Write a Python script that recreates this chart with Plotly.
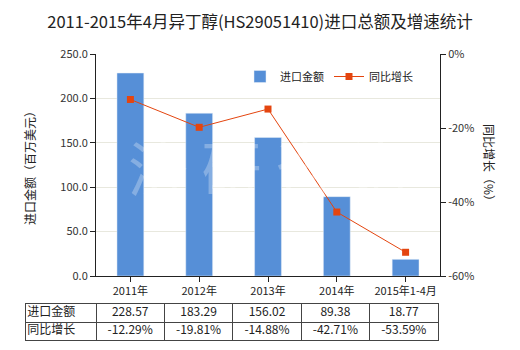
import plotly.graph_objects as go

categories = ["2011年", "2012年", "2013年", "2014年", "2015年1-4月"]
import_values = [228.57, 183.29, 156.02, 89.38, 18.77]
growth_values = [-12.29, -19.81, -14.88, -42.71, -53.59]
import_labels = ["228.57", "183.29", "156.02", "89.38", "18.77"]
growth_labels = ["-12.29%", "-19.81%", "-14.88%", "-42.71%", "-53.59%"]
row_names = ["进口金额", "同比增长"]
left_ticks = [0, 50, 100, 150, 200, 250]
right_ticks = [-60, -40, -20, 0]

FONT = "Noto Sans CJK SC"
BAR = "#568FD7"
LINE = "#E4450F"
GRIDC = "#444444"

W, H = 520, 350
ml, mr, mt, mb = 26, 80, 54, 6
pw = W - ml - mr
ph = H - mt - mb
def px(x):
    return (x - ml) / pw
def py(y):
    return (H - mb - y) / ph

fig = go.Figure()
fig.add_trace(go.Bar(x=categories, y=import_values, name="进口金额", marker_color=BAR,
                     width=0.39, xaxis="x", yaxis="y"))
fig.add_trace(go.Scatter(x=categories, y=growth_values, name="同比增长", mode="lines+markers",
                         line=dict(color=LINE, width=1),
                         marker=dict(symbol="square", size=7, color=LINE),
                         xaxis="x", yaxis="y2"))

# data table built on its own axes (columns = category index, rows = series)
n = len(categories)
label_w = 70 / 68.4
col_idx = list(range(n))
fig.add_trace(go.Scatter(x=col_idx, y=[1.5] * n, text=import_labels, mode="text",
                         textfont=dict(family=FONT, size=12, color="#222222"),
                         xaxis="x3", yaxis="y3", showlegend=False, hoverinfo="skip"))
fig.add_trace(go.Scatter(x=col_idx, y=[0.5] * n, text=growth_labels, mode="text",
                         textfont=dict(family=FONT, size=12, color="#222222"),
                         xaxis="x3", yaxis="y3", showlegend=False, hoverinfo="skip"))
fig.add_trace(go.Scatter(x=[-0.5 - label_w + 0.02] * 2, y=[1.5, 0.5], text=row_names,
                         mode="text", textposition="middle right",
                         textfont=dict(family=FONT, size=12, color="#222222"),
                         xaxis="x3", yaxis="y3", showlegend=False, hoverinfo="skip"))

fig.update_layout(
    width=W, height=H,
    margin=dict(l=ml, r=mr, t=mt, b=mb, pad=0, autoexpand=False),
    paper_bgcolor="white", plot_bgcolor="white",
    font=dict(family=FONT, size=11, color="#333333"),
    title=dict(text="2011-2015年4月异丁醇(HS29051410)进口总额及增速统计",
               x=0.5, xanchor="center", y=1 - 22 / H, yanchor="middle",
               font=dict(family=FONT, size=16.5, color="#222222")),
    xaxis=dict(domain=[px(96), 1], anchor="y", showline=True, linecolor="#222222", linewidth=1,
               ticks="outside", ticklen=5, tickcolor="#222222", showgrid=False,
               tickfont=dict(size=11, color="#222222"), automargin=False),
    yaxis=dict(domain=[py(276), 1], range=[0, 250], tickvals=left_ticks,
               ticktext=[f"{v:.1f}" for v in left_ticks],
               showline=True, linecolor="#222222", linewidth=1, ticks="outside", ticklen=5,
               tickcolor="#222222", gridcolor="#E8E8DE", gridwidth=1, zeroline=False,
               tickfont=dict(size=11, color="#333333"), automargin=False),
    yaxis2=dict(overlaying="y", side="right", anchor="x", range=[-60, 0], tickvals=right_ticks,
                ticktext=[f"{v}%" for v in right_ticks], showgrid=False, zeroline=False,
                showline=True, linecolor="#222222", linewidth=1, ticks="outside", ticklen=5,
                tickcolor="#222222", tickfont=dict(size=11, color="#333333"), automargin=False),
    xaxis3=dict(domain=[0, px(438)], anchor="y3", range=[-0.5 - label_w, n - 0.5],
                tickvals=[i - 0.5 for i in range(n)], showticklabels=False, ticks="",
                showgrid=True, gridcolor=GRIDC, gridwidth=1, zeroline=False,
                showline=True, mirror=True, linecolor=GRIDC, linewidth=1,
                fixedrange=True, automargin=False),
    yaxis3=dict(domain=[py(340), py(304)], anchor="x3", range=[0, 2], tickvals=[1],
                showticklabels=False, ticks="", showgrid=True, gridcolor=GRIDC, gridwidth=1,
                zeroline=False, showline=True, mirror=True, linecolor=GRIDC, linewidth=1,
                fixedrange=True, automargin=False),
    legend=dict(orientation="h", x=px(240), y=py(62), xanchor="left", yanchor="top",
                bgcolor="rgba(0,0,0,0)", font=dict(size=11, color="#222222"),
                itemwidth=30, traceorder="normal"),
    showlegend=True,
)

fig.add_annotation(text="进口金额（百万美元）", textangle=-90, x=px(29), y=py(165),
                   xref="paper", yref="paper", showarrow=False,
                   xanchor="center", yanchor="middle",
                   font=dict(family=FONT, size=12, color="#222222"))
fig.add_annotation(text="同比增长（%）", textangle=90, x=px(490), y=py(165),
                   xref="paper", yref="paper", showarrow=False,
                   xanchor="center", yanchor="middle",
                   font=dict(family=FONT, size=12, color="#222222"))
fig.add_annotation(text="济 研 咨 询", x=px(268), y=py(165), xref="paper", yref="paper",
                   showarrow=False, xanchor="center", yanchor="middle",
                   font=dict(family=FONT, size=60, color="rgba(255,255,255,0.28)"))

fig.write_html("out.html")
